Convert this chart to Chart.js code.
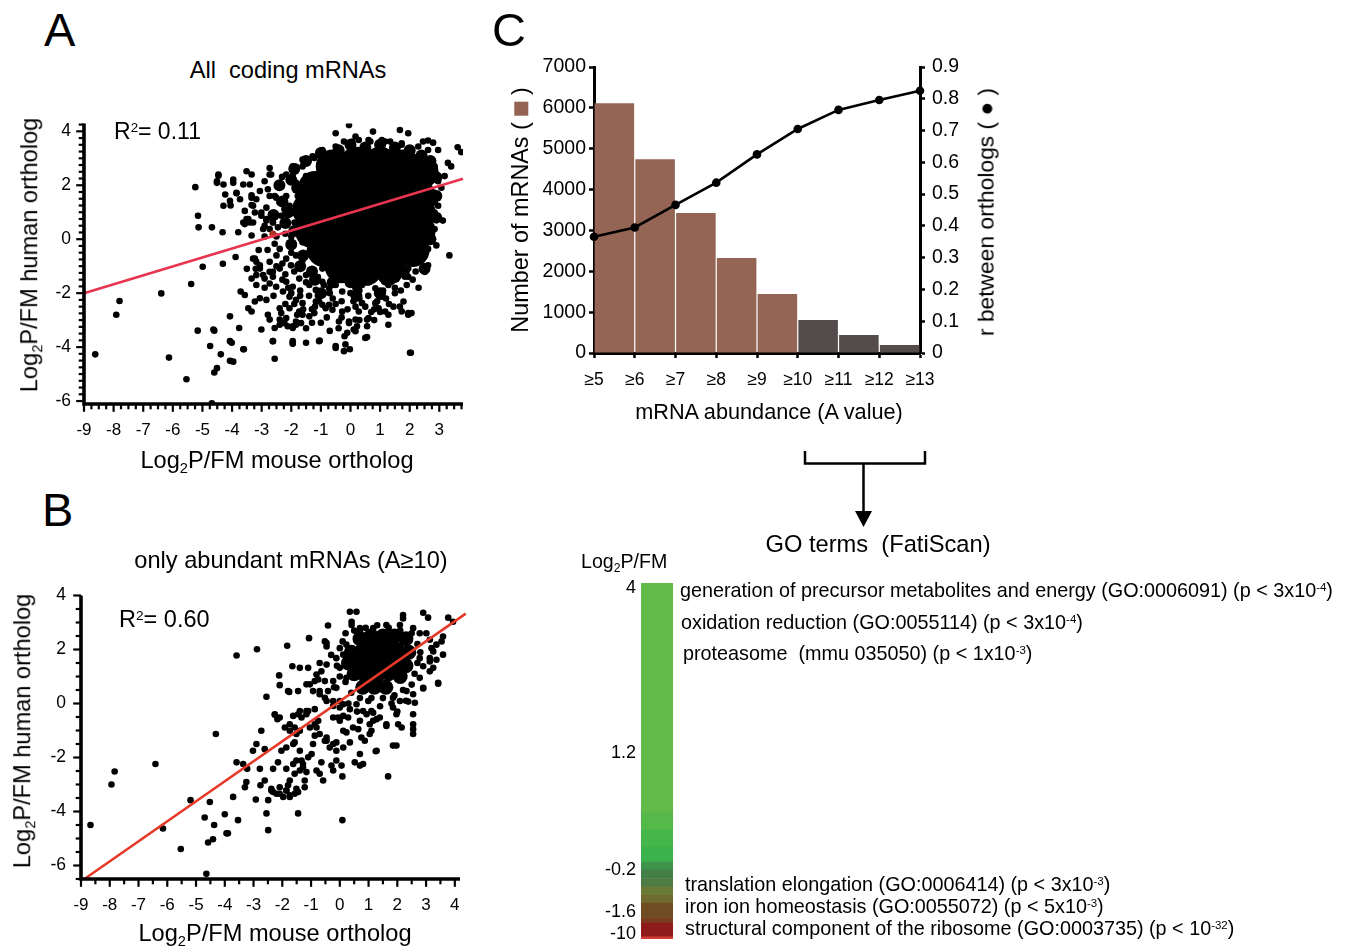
<!DOCTYPE html>
<html><head><meta charset="utf-8">
<script src="https://cdn.jsdelivr.net/npm/chart.js@4.4.1/dist/chart.umd.min.js"></script>
<style>
html,body{margin:0;padding:0;background:#fff;}
body{width:1347px;height:948px;position:relative;overflow:hidden;font-family:'Liberation Sans',Arial,Helvetica,sans-serif;color:#000;}
canvas{position:absolute;}
.t{position:absolute;white-space:nowrap;line-height:1;}
.c{transform:translateX(-50%);}
.r{transform:translate(-50%,-50%) rotate(-90deg);}
sub{font-size:0.62em;line-height:0;vertical-align:-0.32em;}
sup{font-size:0.58em;line-height:0;vertical-align:0.5em;}
.sq{display:inline-block;width:0.6em;height:0.6em;background:#946354;vertical-align:0;}
</style></head><body>

<canvas id="cA" width="480" height="380" style="left:0;top:100px"></canvas>
<canvas id="cB" width="480" height="380" style="left:0;top:570px"></canvas>
<canvas id="cC" width="520" height="360" style="left:490px;top:40px"></canvas>
<canvas id="cBar" width="90" height="404" style="left:590px;top:555px"></canvas>

<div class="t" style="left:44px;top:6px;font-size:47px">A</div>
<div class="t c" style="left:288px;top:59px;font-size:23.6px">All&nbsp; coding mRNAs</div>
<div class="t" style="left:114px;top:120px;font-size:23px">R<sup>2</sup>= 0.11</div>
<div class="t r" style="left:30px;top:255px;font-size:23.6px">Log<sub>2</sub>P/FM human ortholog</div>
<div class="t c" style="left:277px;top:449px;font-size:23.6px">Log<sub>2</sub>P/FM mouse ortholog</div>

<div class="t" style="left:42px;top:486px;font-size:47px">B</div>
<div class="t c" style="left:291px;top:549px;font-size:23.6px">only abundant mRNAs (A≥10)</div>
<div class="t" style="left:119px;top:608px;font-size:23.5px">R<sup>2</sup>= 0.60</div>
<div class="t r" style="left:23px;top:731px;font-size:23.6px">Log<sub>2</sub>P/FM human ortholog</div>
<div class="t c" style="left:275px;top:922px;font-size:23.6px">Log<sub>2</sub>P/FM mouse ortholog</div>

<div class="t" style="left:492px;top:6px;font-size:47px">C</div>
<div class="t r" style="left:521px;top:210px;font-size:23.4px">Number of mRNAs ( <span class="sq"></span> )</div>
<div class="t r" style="left:986px;top:212px;font-size:22.8px">r between orthologs ( ● )</div>
<div class="t c" style="left:769px;top:401px;font-size:21.7px">mRNA abundance (A value)</div>

<svg style="position:absolute;left:0;top:0" width="1347" height="948">
  <path d="M805 451 L805 463.5 L925 463.5 L925 451" fill="none" stroke="#000" stroke-width="2.5"/>
  <path d="M863.5 463.5 L863.5 514" fill="none" stroke="#000" stroke-width="2.5"/>
  <path d="M855 511 L872 511 L863.5 527 Z" fill="#000"/>
</svg>
<div class="t c" style="left:878px;top:533px;font-size:23.7px">GO terms&nbsp; (FatiScan)</div>
<div class="t" style="left:581px;top:552px;font-size:19.6px">Log<sub>2</sub>P/FM</div>

<div class="t" style="left:680px;top:581px;font-size:19.8px">generation of precursor metabolites and energy (GO:0006091) (p &lt; 3x10<sup>-4</sup>)</div>
<div class="t" style="left:681px;top:613px;font-size:19.8px">oxidation reduction (GO:0055114) (p &lt; 3x10<sup>-4</sup>)</div>
<div class="t" style="left:683px;top:644px;font-size:19.8px">proteasome&nbsp; (mmu 035050) (p &lt; 1x10<sup>-3</sup>)</div>
<div class="t" style="left:685px;top:875px;font-size:19.8px">translation elongation (GO:0006414) (p &lt; 3x10<sup>-3</sup>)</div>
<div class="t" style="left:685px;top:897px;font-size:19.8px">iron ion homeostasis (GO:0055072) (p &lt; 5x10<sup>-3</sup>)</div>
<div class="t" style="left:685px;top:919px;font-size:19.8px">structural component of the ribosome (GO:0003735) (p &lt; 10<sup>-32</sup>)</div>

<script>
// ---------------- DATA ----------------
// Panel A: all coding mRNAs (log2 P/FM, mouse x vs human y)
const aDenseCore = [
 [-0.6,2.7],[0.2,2.8],[1.0,2.8],[1.8,2.7],[2.4,2.5],
 [-1.2,1.9],[-0.4,2.0],[0.4,2.0],[1.2,2.0],[2.0,1.9],[2.3,1.6],
 [-1.4,1.1],[-0.6,1.1],[0.2,1.2],[1.0,1.1],[1.8,1.2],[2.3,1.0],
 [-1.3,0.3],[-0.5,0.3],[0.3,0.3],[1.1,0.4],[1.9,0.4],[2.3,0.3],
 [-0.9,-0.4],[-0.1,-0.5],[0.7,-0.5],[1.5,-0.4],[2.1,-0.4],
 [-0.3,-1.0],[0.5,-1.1],[1.3,-1.0]
];
const aDenseRim = [
 [-1.2,-1.5],[-0.6,-1.6],[0.0,-1.6],[0.6,-1.5],[1.2,-1.5],[1.8,-1.2],[-1.7,-1.0],[-1.0,-2.0],[0.2,-2.1],[1.0,-2.0],
 [-2.3,1.4],[-2.2,0.6],[-2.0,-0.2],[-2.4,2.0],[-1.9,2.6],[-2.6,0.9],[-1.0,3.2],[0.0,3.5],[1.0,3.5],[2.0,3.3],
 [2.7,2.9],[2.9,2.3],[2.9,1.6],[2.9,0.8],[2.7,0.0],[2.4,-0.6],[-1.8,1.9],[-1.9,0.3],[-1.6,-0.6],[2.5,-1.1],
 [-1.5,2.9],[-0.4,3.3],[0.5,3.4],[1.5,3.4],[2.4,3.1],[-2.1,1.0],[-2.0,2.2],[-1.3,-1.2],[0.3,-1.6],[1.5,-1.4]
];
const aPoints = [
 [-5.24,1.93],[-5.15,0.87],[-5.13,0.44],[-4.68,0.44],[-4.32,0.26],[-4.46,2.35],[-4.51,2.09],[-4.29,2.03],[-4.23,1.66],[-3.96,2.09],
 [-3.85,1.70],[-3.62,2.03],[-3.51,2.52],[-3.34,2.40],[-3.40,2.03],[-3.34,1.63],[-3.18,1.48],[-3.34,1.27],[-4.29,1.24],[-4.05,1.25],
 [-3.57,1.05],[-3.45,0.75],[-3.62,0.62],[-3.29,0.62],[-3.79,0.26],[-3.34,0.14],[-2.73,2.64],[-2.68,2.40],[-2.31,2.31],[-1.84,2.68],
 [-2.45,2.03],[-2.79,1.85],[-2.73,1.60],[-2.51,1.54],[-2.39,1.36],[-2.84,1.17],[-2.68,0.93],[-3.01,0.87],[-2.84,0.69],[-2.62,0.62],
 [-2.95,0.38],[-2.17,1.60],[-2.06,1.24],[-1.95,2.34],[-1.62,2.95],[-1.22,3.01],[-1.06,3.19],[-0.50,3.93],[-0.05,4.23],[0.17,3.81],
 [0.28,3.68],[-0.22,3.62],[0.76,3.99],[0.67,3.62],[1.06,3.68],[1.67,4.05],[1.95,3.93],[1.34,3.62],[1.73,3.50],[2.06,3.31],
 [2.45,3.62],[2.62,3.66],[2.79,3.58],[2.96,3.31],[3.62,3.41],[3.74,3.23],[2.62,2.95],[2.84,2.70],[3.29,2.83],[3.40,2.70],
 [3.18,2.34],[2.96,2.15],[3.07,1.91],[2.68,1.60],[2.84,1.36],[2.96,1.24],[3.12,0.69],[2.79,0.87],[2.73,0.38],
 [-8.62,-4.27],[-7.91,-2.80],[-7.80,-2.29],[-6.39,-2.01],[-6.13,-4.39],[-5.54,-5.19],[-5.38,-1.66],[-5.16,-3.39],[-4.99,-1.02],[-4.74,-3.96],
 [-4.68,-6.08],[-4.60,-3.39],[-4.60,-4.94],[-4.51,-4.78],[-4.38,-4.27],[-4.31,-0.91],[-4.07,-4.51],[-3.96,-4.54],[-4.07,-2.86],[-4.01,-3.84],
 [-3.88,-0.66],[-3.76,-3.29],[-3.71,-1.94],[-3.57,-2.07],[-3.60,-4.08],[-3.45,-2.56],[-3.34,-2.68],[-3.23,-2.31],[-3.23,-0.72],[-3.18,-0.84],
 [-3.06,-1.09],[-2.95,-1.33],[-3.34,-1.46],[-3.18,-1.70],[-3.06,-2.19],[-2.84,-2.25],[-3.01,-3.35],[-2.73,-1.21],[-2.62,-1.39],[-2.73,-1.64],
 [-2.51,-1.76],[-2.28,-1.94],[-2.79,-2.80],[-2.73,-2.98],[-2.56,-3.29],[-2.62,-3.78],[-2.56,-4.43],[-2.39,-2.56],[-2.34,-2.74],[-2.39,-2.98],
 [-2.23,-3.11],[-2.12,-3.23],[-1.95,-3.23],[-1.84,-3.17],[-1.67,-3.11],[-1.95,-3.78],[-1.95,-3.88],[-1.50,-3.84],[-2.06,-2.13],[-1.84,-2.25],
 [-1.62,-2.37],[-2.06,-2.56],[-1.73,-2.68],[-1.62,-2.80],[-1.39,-2.86],[-1.22,-2.74],[-1.06,-2.31],[-0.95,-2.43],[-1.04,-3.76],[-0.84,-2.56],
 [-0.61,-2.62],[-0.50,-3.96],[-0.22,-4.15],[-0.02,-4.08],[-0.39,-3.05],[-0.05,-3.11],[0.17,-2.98],[-0.11,-3.47],[0.11,-3.35],[0.22,-3.23],
 [0.56,-2.98],[0.56,-3.23],[0.56,-3.63],[0.17,-2.50],[0.39,-2.37],[0.84,-2.37],[1.06,-2.13],[1.17,-2.68],[1.28,-3.17],[1.45,-2.50],
 [1.67,-2.50],[1.79,-2.31],[1.95,-2.74],[2.06,-2.74],[2.04,-4.21],[1.39,-1.58],[1.56,-1.39],[1.84,-1.39],[1.95,-1.39],[2.34,-0.66],
 [2.51,-1.21],[2.62,-0.36],[2.90,-0.23],[3.34,-0.60],[2.23,-0.29],
 [-4.46,2.40],[-4.51,2.15],[-3.96,2.21],[-3.85,1.72],[-4.07,1.42],[-3.73,1.48],[-3.34,1.54],[-3.29,1.24],[-3.23,0.99],[-3.51,0.75],
 [-3.57,0.56],[-3.40,0.62],[-3.06,1.79],[-2.90,2.15],[-2.73,2.40],[-3.01,0.99],[-2.84,0.75],[-2.90,0.50],[-2.73,0.38],[-2.56,1.60],
 [-2.39,1.36],[-2.23,1.11],[-2.34,0.87],[-2.62,0.62],[-2.45,0.44],[-2.56,-0.17],[-2.39,-0.36],[-2.17,2.40],[-1.95,2.70],[-1.84,2.09],
 [-3.29,-0.72],[-3.06,-0.97],[-2.73,-0.84],[-3.18,-1.33],[-2.90,-1.46],[-2.62,-1.21],[-2.39,-1.09],[-2.17,-0.72],[-2.01,-0.97],[-1.84,-0.60],
 [-1.62,-0.78],[-2.17,-1.58],[-1.95,-1.76],[-1.73,-1.46],[-1.50,-1.33],[-1.39,-1.70],[-1.17,-1.88],[-0.95,-1.58],[-0.72,-1.82],[-0.50,-1.70],
 [-0.28,-1.94],[-0.05,-1.58],[0.17,-1.82],[0.39,-1.70],[0.61,-1.58],[0.84,-1.82],[1.06,-1.46],[1.28,-1.70],[1.51,-1.46],[1.73,-1.21],
 [1.95,-1.09],[2.17,-0.84],[2.40,-0.72],[2.62,-0.97],[2.29,-0.36],[2.73,0.01],[2.84,0.38],[2.62,0.62],[2.84,0.99],[2.73,1.36],
 [2.84,1.72],[2.90,2.21],[2.84,2.58],[2.73,2.95],[-1.28,3.07],[-0.95,3.31],[-0.50,3.44],[0.06,3.62],[0.61,3.68],[1.17,3.62],
 [1.73,3.56],[2.29,3.44],[2.62,3.31],[-1.62,2.70],[-1.50,2.34],[-1.78,1.60],[-1.73,0.99],[-1.89,0.62],[-1.73,0.26],[-1.62,-0.11],
 [-1.39,-0.48],[-1.28,-1.21],[-0.95,-1.09],[-0.28,-1.33],[0.39,-1.33],[1.06,-1.21],[1.73,-1.09],[-1.17,-2.31],[-0.72,-2.43],[-0.28,-2.68],
 [-0.05,-3.05],[0.28,-2.68],[0.61,-2.92],[0.95,-2.56],[1.28,-2.80],[1.73,-2.68],[1.95,-2.80],[-2.17,-2.92],[-1.84,-3.05],[-2.39,-3.17],
 [-1.95,-3.29],[0.17,-3.41],[0.50,-3.66],[-0.17,-3.90],[-0.50,-4.03],[-2.62,-3.78],[-1.95,-3.84],[-1.06,-3.78],[-4.63,-3.35],[-4.07,-3.78],
 [-3.62,-4.08],[2.01,-4.21],
 [-2.0,-2.0],[-1.7,-1.9],[-1.4,-2.1],[-1.2,-2.5],[-0.9,-2.0],[-0.6,-2.2],[-0.3,-2.3],[0.0,-2.0],[0.3,-2.2],[0.6,-2.1],
 [0.9,-2.0],[1.2,-2.2],[1.5,-2.0],[-1.6,-2.6],[-0.8,-2.9],[-0.4,-3.3],[0.8,-3.0],[1.0,-2.7],[-2.2,-1.3],[-1.9,-1.2],
 [-1.1,-1.4],[-0.6,-1.3],[0.1,-1.3],[0.8,-1.4],[1.4,-1.2],[2.1,-1.5],[2.3,-1.8],[-2.5,-0.6],[-2.3,-0.9],[-2.0,-0.5],
 [-2.2,0.2],[-2.0,0.1],[-2.5,0.1],
 [-2.5,-1.0],[-2.3,-1.5],[-2.1,-1.8],[-1.9,-2.4],[-1.7,-2.1],[-1.5,-1.6],[-1.3,-2.6],[-1.1,-2.1],[-0.9,-1.7],[-0.7,-2.0],
 [-0.5,-2.4],[-0.3,-2.9],[-0.1,-2.6],[0.1,-2.3],[0.3,-1.9],[0.5,-2.5],[0.7,-2.7],[0.9,-2.3],[1.1,-1.9],[1.3,-2.4],
 [1.5,-1.8],[1.7,-1.9],[1.9,-1.7],[2.2,-1.2],[-2.8,-0.4],[-2.9,0.1],[-3.1,-0.4],[-2.6,-2.1],[-2.9,-1.8],[-1.5,-3.3],
 [-0.7,-3.4],[-1.3,-3.1],[0.3,-3.0],[-3.5,-1.1],[-3.2,-1.1],[-2.2,-2.4],[-1.8,-2.8],[-1.0,-3.1],[-0.2,-3.6],[0.8,-2.6]
];
const aHighlight = [[-2.62,0.19]];
const aFit = [[-9,-2.0],[3.8,2.24]];
const aXTicks = [-9,-8,-7,-6,-5,-4,-3,-2,-1,0,1,2,3];
const aYTicks = [-6,-4,-2,0,2,4];

// Panel B: only abundant mRNAs (A>=10)
const bDenseCore = [
 [0.7,2.4],[1.1,2.5],[1.5,2.5],[1.9,2.5],[2.3,2.4],
 [0.4,1.9],[0.8,2.0],[1.2,2.0],[1.6,2.0],[2.0,2.0],[2.4,1.9],
 [0.3,1.5],[0.7,1.5],[1.1,1.5],[1.5,1.5],[1.9,1.5],[2.3,1.4],
 [0.5,1.1],[0.9,1.0],[1.3,1.0],[1.7,1.1],[2.1,1.0],
 [0.8,0.6],[1.2,0.6],[1.6,0.6],
 [1.0,2.2],[1.4,2.2],[1.8,2.2],[0.6,1.7],[1.0,1.7],[1.4,1.7],[1.8,1.7],[2.2,1.7],[0.9,1.3],[1.3,1.3],[1.7,1.3],[2.0,1.25]
];
const bPoints = [
 [-3.59,1.78],[-2.88,2.01],[-1.83,2.14],[-1.65,1.38],[-1.39,1.32],[-1.10,1.32],[-2.11,1.04],[-2.09,0.68],[-2.55,0.25],[-1.76,0.43],
 [-1.45,0.46],[-1.07,2.42],[-0.41,2.89],[-0.46,2.11],[0.35,3.40],[2.90,3.36],[3.07,3.18],[3.77,3.18],[3.94,3.03],[3.59,2.48],
 [3.54,2.30],[3.59,1.81],[3.36,2.18],[3.19,2.05],[3.13,1.56],[2.90,1.38],[3.42,0.73],[2.90,0.56],[0.41,2.91],[0.70,2.79],
 [-0.70,1.50],[-0.46,1.44],[-1.16,0.71],[-0.87,0.83],[-0.81,1.07],[-0.70,0.46],[-0.52,0.21],[-0.23,0.83],[-0.12,0.58],[-0.23,0.09],
 [0.0,-0.15],[-1.39,-0.28],[-1.16,-0.40],[-2.26,-0.40],[-2.09,-0.52],
 [-8.67,-4.50],[-7.94,-3.00],[-7.83,-2.52],[-6.41,-2.24],[-6.15,-4.63],[-5.53,-5.39],[-5.19,-3.58],[-4.70,-4.22],[-4.64,-6.31],[-4.58,-5.15],
 [-4.52,-3.65],[-4.41,-5.03],[-4.37,-4.50],[-4.31,-1.13],[-4.00,-4.10],[-3.94,-4.81],[-3.89,-4.81],[-3.71,-3.46],[-3.59,-2.18],[-3.54,-4.32],
 [-3.36,-2.24],[-3.30,-3.10],[-3.25,-2.91],[-3.22,-2.42],[-3.02,-1.75],[-2.92,-3.56],[-2.90,-1.50],[-2.78,-2.42],[-2.76,-3.03],[-2.73,-1.01],
 [-2.61,-1.69],[-2.55,-4.07],[-2.49,-3.58],[-2.49,-4.69],[-2.61,-2.85],[-2.38,-3.16],[-2.32,-3.28],[-2.32,-2.42],[-2.26,-0.42],[-2.17,-0.58],
 [-2.15,-2.18],[-2.09,-3.34],[-1.97,-3.46],[-1.86,-3.22],[-2.03,-1.75],[-1.91,-0.89],[-1.74,-0.77],[-1.86,-2.42],[-1.74,-2.85],[-1.80,-3.03],
 [-1.74,-3.40],[-1.62,-2.24],[-1.57,-2.60],[-1.51,-3.16],[-1.57,-1.44],[-1.51,-1.13],[-1.45,-4.07],[-1.62,-0.46],[-1.45,-0.40],[-1.33,-0.52],
 [-1.16,-0.28],[-1.39,-1.75],[-1.33,-2.11],[-1.28,-2.36],[-1.22,-2.85],[-1.22,-3.10],[-1.10,-1.99],[-0.98,-1.87],[-0.93,-1.50],[-0.87,-1.19],
 [-0.81,-2.48],[-0.70,-2.60],[-0.75,-0.64],[-0.81,-0.89],[-0.64,-2.18],[-0.58,-2.85],[-0.52,-1.38],[-0.46,-1.26],[-0.35,-1.63],[-0.29,-2.30],
 [-0.23,-2.48],[-0.12,-2.11],[-0.12,-1.44],[0.06,-2.30],[0.09,-2.70],[0.09,-4.32],[0.12,-1.01],[0.23,-1.07],[-0.06,-0.52],[0.12,-0.46],
 [0.35,-1.44],[0.46,-0.89],[0.64,-0.95],[0.52,-2.18],[0.70,-2.30],[0.70,-0.64],[0.75,-1.26],[0.87,-1.38],[0.93,-0.40],[1.10,-0.28],
 [1.16,-0.64],[1.28,-0.58],[1.25,-1.77],[1.04,-1.13],[1.62,-0.83],[1.68,-2.70],[1.85,-0.15],[1.97,-0.40],[1.85,-1.56],[1.97,-1.56],
 [2.03,-0.77],[2.15,-0.89],[2.55,-0.40],[2.55,-0.77],[2.55,-0.95],[2.55,-1.13],[2.61,0.03],[2.38,0.07],
 [-1.80,0.46],[-1.04,0.71],[-0.75,0.89],[-0.93,0.46],[-0.70,0.34],[-1.10,-0.28],[-0.87,-0.21],[-0.64,1.19],[-0.52,0.83],[-0.41,0.46],
 [-0.46,0.09],[-0.23,-0.09],[0.0,0.09],[-0.12,1.68],[0.12,1.81],[0.0,1.32],[0.23,0.95],[-0.23,-0.52],[0.0,-0.64],[0.29,-0.52],
 [0.12,-0.03],[0.35,-0.21],[0.58,-0.03],[0.81,-0.28],[0.99,0.09],[1.16,-0.34],[1.39,-0.52],[1.62,-0.77],[1.04,-0.77],[1.10,-1.01],
 [1.28,-1.75],[1.85,0.21],[2.09,0.09],[2.32,0.46],[2.55,0.34],[2.90,0.58],[3.42,0.77],[3.13,1.19],[3.25,1.32],[0.58,3.40],
 [0.41,3.03],[2.20,3.28],[2.20,3.15],[1.16,2.79],[1.62,2.91],[2.09,2.91],[2.55,2.79],[0.70,2.67],[0.93,2.54],[2.78,2.60],
 [3.01,2.60],[3.13,2.36],[3.25,1.93],[3.13,1.68],[3.36,1.62],[2.78,1.68],[2.78,0.95],[0.0,2.05],[0.23,2.18],[-0.52,2.30],
 [-0.46,2.24],[-1.74,-1.01],[-1.57,-0.89],[-1.39,-1.01],[-1.04,-0.89],[-0.87,-0.77],[-0.70,-1.13],[-0.46,-1.38],[-0.23,-1.50],[-0.12,-1.75],
 [0.12,-1.63],[0.70,-1.87],[0.81,-2.24],[-1.86,-1.63],[-1.62,-1.50],[-1.51,-2.11],[-1.28,-2.24],[-1.39,-2.48],[-1.16,-2.54],[-2.09,-3.10],
 [-1.86,-3.22],[-1.74,-3.46],[-1.57,-3.34],[-1.45,-3.28],[-2.38,-3.22],[-2.20,-3.34],
 [0.2,2.6],[0.5,2.7],[0.9,2.8],[1.3,2.9],[1.7,2.8],[2.1,2.7],[2.5,2.6],[2.7,2.2],[2.8,1.9],[2.7,1.5],
 [2.6,1.1],[2.5,0.7],[2.2,0.5],[1.9,0.3],[1.5,0.2],[1.1,0.2],[0.7,0.2],[0.4,0.4],[0.2,0.8],[0.0,1.0],
 [-0.1,1.4],[0.1,2.3],[-0.3,1.8],[-0.2,0.6],[0.3,0.0],[0.6,-0.3],[1.4,-0.1],[1.8,0.0],[2.3,0.1],[2.0,-0.3]
];
const bFit = [[-8.87,-6.49],[4.38,3.33]];
const bXTicks = [-9,-8,-7,-6,-5,-4,-3,-2,-1,0,1,2,3,4];
const bYTicks = [-6,-4,-2,0,2,4];

// Panel C
const abundanceThresholds = [5,6,7,8,9,10,11,12,13];
const mrnaCounts = [6111,4740,3426,2325,1444,808,440,196];
const orthologR = [0.366,0.395,0.466,0.536,0.625,0.705,0.765,0.796,0.825];
const countTicks = [0,1000,2000,3000,4000,5000,6000,7000];
const rTicks = [0,0.1,0.2,0.3,0.4,0.5,0.6,0.7,0.8,0.9];

// GO colour bar (share of ranked genes per colour band, bottom to top)
const colorbarShares = [0.6,3.9,1.2,4.4,2.2,2.3,2.4,2.4,2.2,4.2,4.8,4.8,64.6];
const colorbarTickRanks = [98.6,52.2,19.4,7.6,1.4];
const colorbarTickLabels = ['4','1.2','-0.2','-1.6','-10'];

// ---------------- STYLE ----------------
const FONT = "'Liberation Sans', Arial, Helvetica, sans-serif";
const colorbarColors = ['#d43b37','#8e1b1c','#7c3a1f','#6f4c22','#6f6a2e','#6b7b36','#4f7c43','#437f46','#3f944c','#3bb24b','#45b64a','#55b949','#62bb48'];
const toXY = arr => arr.map(([x,y]) => ({x, y}));
const near = (a,b) => Math.abs(a-b) < 1e-6;

const minorAxes = {
  id: 'minorAxes',
  afterDraw(chart) {
    const o = chart.options.plugins.minorAxes;
    if (!o || !o.on) return;
    const {ctx, chartArea: ca} = chart;
    const xs = chart.scales.x, ys = chart.scales.y;
    ctx.save();
    ctx.strokeStyle = '#000';
    ctx.lineWidth = o.tickWidth;
    for (let k = Math.ceil(xs.min / o.xMinor - 1e-9); k * o.xMinor <= xs.max + 1e-9; k++) {
      const v = k * o.xMinor, px = xs.getPixelForValue(v);
      const len = o.xMajor.some(m => near(m, v)) ? o.majorLen : o.minorLen;
      ctx.beginPath(); ctx.moveTo(px, ca.bottom); ctx.lineTo(px, ca.bottom + o.axisWidth / 2 + len); ctx.stroke();
    }
    for (let k = Math.ceil(ys.min / o.yMinor - 1e-9); k * o.yMinor <= ys.max + 1e-9; k++) {
      const v = k * o.yMinor, py = ys.getPixelForValue(v);
      const len = o.yMajor.some(m => near(m, v)) ? o.majorLen : o.minorLen;
      ctx.beginPath(); ctx.moveTo(ca.left, py); ctx.lineTo(ca.left - o.axisWidth / 2 - len, py); ctx.stroke();
    }
    ctx.lineWidth = o.axisWidth;
    ctx.lineJoin = 'miter';
    ctx.beginPath(); ctx.moveTo(ca.left, ca.top); ctx.lineTo(ca.left, ca.bottom); ctx.lineTo(ca.right, ca.bottom); ctx.stroke();
    ctx.restore();
  }
};
Chart.register(minorAxes);

function scatterPanel(id, cfg) {
  const dot = (data, r, color, order) => ({
    data: toXY(data), pointRadius: r, pointHoverRadius: r, pointBackgroundColor: color,
    pointBorderWidth: 0, borderWidth: 0, showLine: false, order
  });
  new Chart(document.getElementById(id), {
    type: 'scatter',
    data: { datasets: [
      { data: toXY(cfg.fit), showLine: true, borderColor: cfg.lineColor, borderWidth: 2.6, pointRadius: 0, clip: false, order: 0 },
      ...(cfg.highlight ? [dot(cfg.highlight, 3.6, '#a8321f', 1)] : []),
      dot(cfg.points, 3.3, '#000', 2),
      ...(cfg.rim ? [dot(cfg.rim, 6, '#000', 3)] : []),
      dot(cfg.core, cfg.coreR, '#000', 4)
    ]},
    options: {
      responsive: false, animation: false, events: [],
      layout: { padding: cfg.padding },
      plugins: { legend: {display:false}, tooltip: {enabled:false},
        minorAxes: { on: true, xMinor: cfg.xMinor, yMinor: cfg.yMinor, xMajor: cfg.xTicks, yMajor: cfg.yTicks,
                     majorLen: 6, minorLen: 3.5, tickWidth: 2.2, axisWidth: 3.6 } },
      scales: {
        x: { type: 'linear', min: cfg.xMin, max: cfg.xMax,
             grid: {display:false, drawTicks:false}, border: {display:false},
             ticks: { color:'#000', font:{family:FONT, size:17}, padding: 16, autoSkip:false, maxRotation:0, callback: v => String(v) },
             afterBuildTicks: s => { s.ticks = cfg.xTicks.map(v => ({value:v})); },
             afterFit: s => { s.height = cfg.xH; } },
        y: { type: 'linear', min: cfg.yMin, max: cfg.yMax,
             grid: {display:false, drawTicks:false}, border: {display:false},
             ticks: { color:'#000', font:{family:FONT, size:17.5}, padding: cfg.yPad, autoSkip:false, callback: v => String(v) },
             afterBuildTicks: s => { s.ticks = cfg.yTicks.map(v => ({value:v})); },
             afterFit: s => { s.width = cfg.yW; } }
      }
    }
  });
}

scatterPanel('cA', { fit: aFit, lineColor: '#e8344f', highlight: aHighlight, points: aPoints, rim: aDenseRim,
  core: aDenseCore, coreR: 17, xMin: -9, xMax: 3.8, yMin: -6.11, yMax: 4.29, xTicks: aXTicks, yTicks: aYTicks,
  xMinor: 0.25, yMinor: 0.25, padding: {top:20, right:16, left:0, bottom:0}, xH: 76, yW: 84, yPad: 13 });

scatterPanel('cB', { fit: bFit, lineColor: '#e53a2a', points: bPoints, core: bDenseCore, coreR: 7.5,
  xMin: -9, xMax: 4.18, yMin: -6.5, yMax: 4, xTicks: bXTicks, yTicks: bYTicks,
  xMinor: 0.5, yMinor: 0.5, padding: {top:24, right:20, left:0, bottom:0}, xH: 71, yW: 81, yPad: 15 });

// Panel C
new Chart(document.getElementById('cC'), {
  type: 'bar',
  data: { datasets: [
    { type: 'line', data: abundanceThresholds.map((a,i) => ({x:a, y:orthologR[i]})), yAxisID: 'yR',
      borderColor: '#000', borderWidth: 2.6, pointRadius: 4.3, pointBackgroundColor: '#000', pointBorderWidth: 0, clip: false, order: 0 },
    { type: 'bar', data: mrnaCounts.map((n,i) => ({x: abundanceThresholds[i] + 0.5, y: n})), yAxisID: 'yL',
      backgroundColor: c => (c.raw && c.raw.x > 10) ? '#544c4c' : '#946454',
      borderWidth: 0, barPercentage: 0.97, categoryPercentage: 1, order: 1 }
  ]},
  options: {
    responsive: false, animation: false, events: [],
    layout: { padding: {top:27, left:0, right:0, bottom:0} },
    plugins: { legend: {display:false}, tooltip: {enabled:false} },
    scales: {
      x: { type: 'linear', min: 5, max: 13, offset: false,
           grid: { display:true, drawOnChartArea:false, offset:false, tickLength:5, tickWidth:2.5, tickColor:'#000' },
           border: { display:true, width:3, color:'#000' },
           ticks: { color:'#000', font:{family:FONT, size:17.5}, padding: 12, autoSkip:false, maxRotation:0, callback: v => '≥' + v },
           afterBuildTicks: s => { s.ticks = abundanceThresholds.map(v => ({value:v})); },
           afterFit: s => { s.height = 47; } },
      yL: { type: 'linear', position: 'left', min: 0, max: 7000,
           grid: { display:true, drawOnChartArea:false, tickLength:5, tickWidth:2.5, tickColor:'#000' },
           border: { display:true, width:3, color:'#000' },
           ticks: { color:'#000', font:{family:FONT, size:19.5}, padding: 3, callback: v => String(v) },
           afterBuildTicks: s => { s.ticks = countTicks.map(v => ({value:v})); },
           afterFit: s => { s.width = 104; } },
      yR: { type: 'linear', position: 'right', min: 0, max: 0.9,
           grid: { display:true, drawOnChartArea:false, tickLength:5, tickWidth:2.5, tickColor:'#000' },
           border: { display:true, width:3, color:'#000' },
           ticks: { color:'#000', font:{family:FONT, size:19.5}, padding: 7, callback: v => v === 0 ? '0' : v.toFixed(1) },
           afterBuildTicks: s => { s.ticks = rTicks.map(v => ({value:v})); },
           afterFit: s => { s.width = 90; } }
    }
  }
});

// GO colour bar
new Chart(document.getElementById('cBar'), {
  type: 'bar',
  data: { labels: [''], datasets: colorbarShares.map((v,i) => ({
    data: [v], backgroundColor: colorbarColors[i], borderWidth: 0, barPercentage: 1, categoryPercentage: 1 })) },
  options: {
    responsive: false, animation: false, events: [],
    layout: { padding: {top:28, right:7, bottom:20, left:0} },
    plugins: { legend: {display:false}, tooltip: {enabled:false} },
    scales: {
      x: { stacked: true, display: false },
      y: { stacked: true, min: 0, max: 100, grid: {display:false, drawTicks:false}, border: {display:false},
           ticks: { color:'#000', font:{family:FONT, size:18}, padding: 5, autoSkip:false,
                    callback: (v, i) => colorbarTickLabels[i] },
           afterBuildTicks: s => { s.ticks = colorbarTickRanks.map(v => ({value:v})); },
           afterFit: s => { s.width = 51; } }
    }
  }
});
</script>
</body></html>
